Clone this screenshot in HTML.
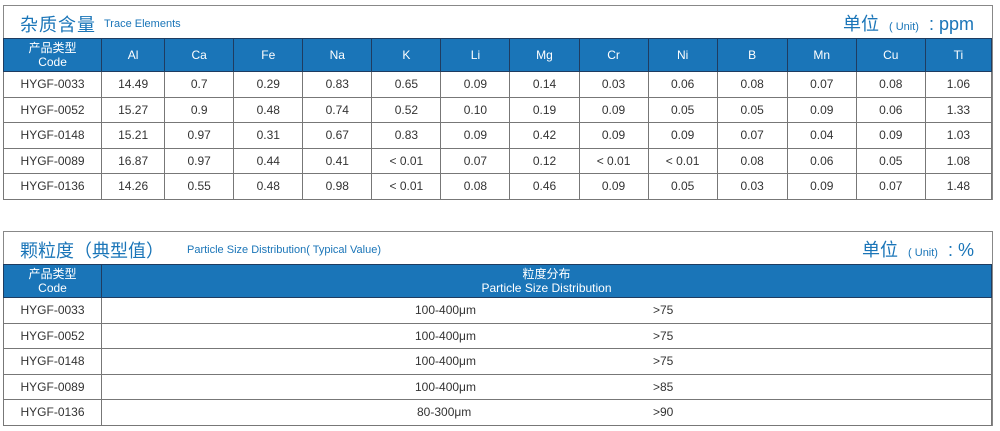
<!DOCTYPE html>
<html><head><meta charset="utf-8"><style>
body{margin:0;width:1000px;height:431px;background:#fff;position:relative;font-family:"Liberation Sans","Noto Sans CJK SC",sans-serif;overflow:hidden}
.box{position:absolute;left:3px;width:988px;border:1px solid #888;border-bottom:none}
.title{height:32px;position:relative;color:#1a75b8}
.cn{position:absolute;left:16px;top:5px;font-size:18px;letter-spacing:1px}
.en{position:absolute;font-size:11px;top:12px}
.unit{position:absolute;right:18px;top:4px;font-size:18px}
.unit small{font-size:11px;margin:0 10px}
table{border-collapse:collapse;table-layout:fixed;width:989px;margin-left:-1px}
td{border:1px solid #777;text-align:center;font-size:12px;color:#333;padding:0;height:24.5px}
tr.h td{background:#1a75b8;color:#fff;border-color:#1f3c60;height:32px;line-height:14px}
</style></head><body>
<div class="box" style="top:5px">
<div class="title"><span class="cn">杂质含量</span><span class="en" style="left:100px">Trace Elements</span><span class="unit">单位<small>( Unit)</small>: ppm</span></div>
<table>
<colgroup><col style="width:98px"><col style="width:63px"><col style="width:69px"><col style="width:69px"><col style="width:69px"><col style="width:69px"><col style="width:69px"><col style="width:69px"><col style="width:69px"><col style="width:69px"><col style="width:70px"><col style="width:69px"><col style="width:69px"><col style="width:66px"></colgroup>
<tr class="h"><td>产品类型<br>Code</td><td>Al</td><td>Ca</td><td>Fe</td><td>Na</td><td>K</td><td>Li</td><td>Mg</td><td>Cr</td><td>Ni</td><td>B</td><td>Mn</td><td>Cu</td><td>Ti</td></tr>
<tr><td>HYGF-0033</td><td>14.49</td><td>0.7</td><td>0.29</td><td>0.83</td><td>0.65</td><td>0.09</td><td>0.14</td><td>0.03</td><td>0.06</td><td>0.08</td><td>0.07</td><td>0.08</td><td>1.06</td></tr>
<tr><td>HYGF-0052</td><td>15.27</td><td>0.9</td><td>0.48</td><td>0.74</td><td>0.52</td><td>0.10</td><td>0.19</td><td>0.09</td><td>0.05</td><td>0.05</td><td>0.09</td><td>0.06</td><td>1.33</td></tr>
<tr><td>HYGF-0148</td><td>15.21</td><td>0.97</td><td>0.31</td><td>0.67</td><td>0.83</td><td>0.09</td><td>0.42</td><td>0.09</td><td>0.09</td><td>0.07</td><td>0.04</td><td>0.09</td><td>1.03</td></tr>
<tr><td>HYGF-0089</td><td>16.87</td><td>0.97</td><td>0.44</td><td>0.41</td><td>&lt; 0.01</td><td>0.07</td><td>0.12</td><td>&lt; 0.01</td><td>&lt; 0.01</td><td>0.08</td><td>0.06</td><td>0.05</td><td>1.08</td></tr>
<tr><td>HYGF-0136</td><td>14.26</td><td>0.55</td><td>0.48</td><td>0.98</td><td>&lt; 0.01</td><td>0.08</td><td>0.46</td><td>0.09</td><td>0.05</td><td>0.03</td><td>0.09</td><td>0.07</td><td>1.48</td></tr>
</table></div>

<div class="box" style="top:231px">
<div class="title"><span class="cn" style="letter-spacing:0">颗粒度（典型值）</span><span class="en" style="left:183px">Particle Size Distribution( Typical Value)</span><span class="unit">单位<small>( Unit)</small>: %</span></div>
<table>
<colgroup><col style="width:98px"><col></colgroup>
<tr class="h"><td>产品类型<br>Code</td><td>粒度分布<br>Particle Size Distribution</td></tr>
<tr><td>HYGF-0033</td><td style="position:relative"><span style="position:absolute;left:313px;top:5px">100-400μm</span><span style="position:absolute;left:551px;top:5px">&gt;75</span></td></tr>
<tr><td>HYGF-0052</td><td style="position:relative"><span style="position:absolute;left:313px;top:5px">100-400μm</span><span style="position:absolute;left:551px;top:5px">&gt;75</span></td></tr>
<tr><td>HYGF-0148</td><td style="position:relative"><span style="position:absolute;left:313px;top:5px">100-400μm</span><span style="position:absolute;left:551px;top:5px">&gt;75</span></td></tr>
<tr><td>HYGF-0089</td><td style="position:relative"><span style="position:absolute;left:313px;top:5px">100-400μm</span><span style="position:absolute;left:551px;top:5px">&gt;85</span></td></tr>
<tr><td>HYGF-0136</td><td style="position:relative"><span style="position:absolute;left:315px;top:5px">80-300μm</span><span style="position:absolute;left:551px;top:5px">&gt;90</span></td></tr>
</table></div>
</body></html>
